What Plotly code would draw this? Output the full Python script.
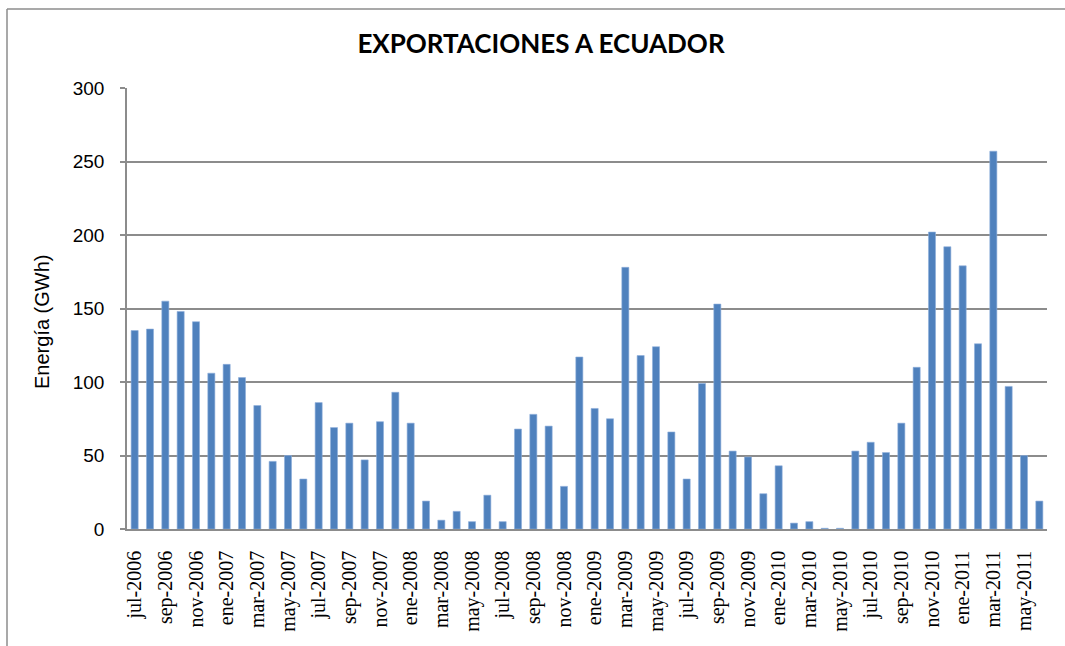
import plotly.graph_objects as go

months = [
    "jul-2006", "ago-2006", "sep-2006", "oct-2006", "nov-2006", "dic-2006",
    "ene-2007", "feb-2007", "mar-2007", "abr-2007", "may-2007", "jun-2007",
    "jul-2007", "ago-2007", "sep-2007", "oct-2007", "nov-2007", "dic-2007",
    "ene-2008", "feb-2008", "mar-2008", "abr-2008", "may-2008", "jun-2008",
    "jul-2008", "ago-2008", "sep-2008", "oct-2008", "nov-2008", "dic-2008",
    "ene-2009", "feb-2009", "mar-2009", "abr-2009", "may-2009", "jun-2009",
    "jul-2009", "ago-2009", "sep-2009", "oct-2009", "nov-2009", "dic-2009",
    "ene-2010", "feb-2010", "mar-2010", "abr-2010", "may-2010", "jun-2010",
    "jul-2010", "ago-2010", "sep-2010", "oct-2010", "nov-2010", "dic-2010",
    "ene-2011", "feb-2011", "mar-2011", "abr-2011", "may-2011", "jun-2011",
]

energia_gwh = [
    135, 136, 155, 148, 141, 106,
    112, 103, 84, 46, 50, 34,
    86, 69, 72, 47, 73, 93,
    72, 19, 6, 12, 5, 23,
    5, 68, 78, 70, 29, 117,
    82, 75, 178, 118, 124, 66,
    34, 99, 153, 53, 49, 24,
    43, 4, 5, 0.5, 0.5, 53,
    59, 52, 72, 110, 202, 192,
    179, 126, 257, 97, 50, 19,
]

tick_labels = months[::2]

fig = go.Figure()
fig.add_trace(go.Bar(
    x=months,
    y=energia_gwh,
    marker=dict(color="#4F81BD", line=dict(color="#8EAEDB", width=0.6)),
    showlegend=False,
))

grid = "#8C8C8C"
fig.update_layout(
    width=1065,
    height=646,
    margin=dict(l=127, r=18, t=88, b=117),
    paper_bgcolor="white",
    plot_bgcolor="white",
    bargap=0.54,
    title=dict(
        text="<b>EXPORTACIONES A ECUADOR</b>",
        x=0.45, xref="paper", xanchor="center",
        y=1 - 44 / 646, yref="container", yanchor="middle",
        font=dict(family="Lato", size=26, color="black"),
    ),
    xaxis=dict(
        type="category",
        tickmode="array",
        tickvals=tick_labels,
        ticktext=tick_labels,
        tickangle=-90,
        tickfont=dict(family="Liberation Serif", size=20, color="black"),
        showline=True, linecolor=grid, linewidth=1.5,
        showgrid=False,
        ticks="",
        ticklabelstandoff=12,
    ),
    yaxis=dict(
        range=[0, 300],
        dtick=50,
        tickfont=dict(family="Liberation Sans", size=19, color="black"),
        showgrid=True, gridcolor=grid, gridwidth=1.5,
        showline=True, linecolor=grid, linewidth=1.5,
        ticks="outside", ticklen=5, tickcolor=grid, tickwidth=1.5,
        zeroline=False,
        ticklabelstandoff=12,
    ),
    annotations=[dict(
        text="Energía (GWh)",
        xref="paper", yref="paper",
        x=(42 - 127) / 920, y=(529 - 322) / 441,
        xanchor="center", yanchor="middle",
        textangle=-90, showarrow=False,
        font=dict(family="Liberation Sans", size=20, color="black"),
    )],
    shapes=[
        dict(type="line", xref="paper", yref="paper",
             x0=(7 - 127) / 920, x1=(7 - 127) / 920,
             y0=(529 - 9) / 441, y1=(529 - 700) / 441,
             line=dict(color="#8C8C8C", width=1.5)),
        dict(type="line", xref="paper", yref="paper",
             x0=(7 - 127) / 920, x1=(1100 - 127) / 920,
             y0=(529 - 9) / 441, y1=(529 - 9) / 441,
             line=dict(color="#8C8C8C", width=1.5)),
    ],
)

fig.write_html(
    "out.html",
    config={"displayModeBar": False},
    post_script="document.body.style.margin='0';document.body.style.overflow='hidden';",
)
